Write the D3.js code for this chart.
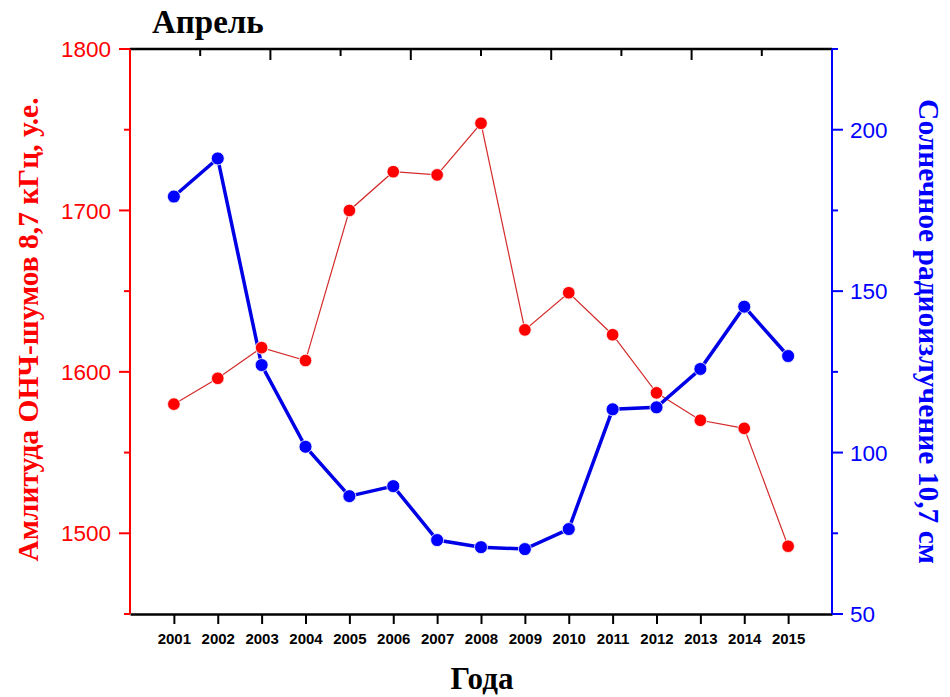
<!DOCTYPE html>
<html>
<head>
<meta charset="utf-8">
<script src="https://cdn.jsdelivr.net/npm/d3@7"></script>
<style>
  body { margin: 0; background: #fff; }
  svg { display: block; }
</style>
</head>
<body>
<svg id="chart" width="950" height="697"></svg>
<script>
// Data
const years = [2001, 2002, 2003, 2004, 2005, 2006, 2007, 2008, 2009, 2010, 2011, 2012, 2013, 2014, 2015];
const vlfNoise = [1580, 1596, 1615, 1607, 1700, 1724, 1722, 1754, 1626, 1649, 1623, 1587, 1570, 1565, 1492];
const solarFlux = [179.3, 191.1, 127.1, 101.8, 86.5, 89.6, 72.9, 70.7, 70.1, 76.3, 113.4, 114, 125.9, 145.2, 129.9];
const leftTicks = [1500, 1600, 1700, 1800];
const rightTicks = [50, 100, 150, 200];

const titleText = "Апрель";
const xTitle = "Года";
const leftTitle = "Амлитуда ОНЧ-шумов 8,7 кГц, у.е.";
const rightTitle = "Солнечное радиоизлучение 10,7 см";

// Plot frame
const plotLeft = 130, plotRight = 832, plotTop = 49, plotBottom = 614;
const red = "#ff0000", blue = "#0000ff";

const svg = d3.select("#chart");

const x = d3.scaleLinear().domain([2000, 2016]).range([plotLeft, plotRight]);
const yL = d3.scaleLinear().domain([1450, 1800]).range([plotBottom, plotTop]);
const yR = d3.scaleLinear().domain([50, 225]).range([plotBottom, plotTop]);
const xTop = d3.scaleLinear().domain([0, 10]).range([plotLeft, plotRight]);

// Top frame line with inward ticks (alternating major / minor)
const gTop = svg.append("g");
gTop.append("line")
    .attr("x1", plotLeft).attr("x2", plotRight).attr("y1", plotTop).attr("y2", plotTop)
    .attr("stroke", "#000").attr("stroke-width", 2.5);
gTop.selectAll("line.t")
    .data(d3.range(1, 10))
    .join("line")
    .attr("class", "t")
    .attr("x1", d => xTop(d)).attr("x2", d => xTop(d))
    .attr("y1", plotTop).attr("y2", d => plotTop + (d % 2 === 0 ? 11 : 7))
    .attr("stroke", "#000").attr("stroke-width", 2);

// Bottom axis
const gX = svg.append("g").attr("transform", `translate(0,${plotBottom})`)
    .call(d3.axisBottom(x).tickValues(years).tickFormat(d3.format("d")).tickSize(10).tickSizeOuter(0));
gX.select(".domain").attr("stroke", "#000").attr("stroke-width", 2.5);
gX.selectAll(".tick line").attr("stroke", "#000").attr("stroke-width", 2);
gX.selectAll(".tick text")
    .attr("fill", "#000")
    .attr("dy", "1.15em")
    .style("font", "bold 15px 'Liberation Sans', Arial, sans-serif");

// Left axis (red)
const gL = svg.append("g").attr("transform", `translate(${plotLeft},0)`);
gL.append("line").attr("x1", 0).attr("x2", 0).attr("y1", plotTop).attr("y2", plotBottom)
    .attr("stroke", red).attr("stroke-width", 2);
gL.selectAll("line.minor")
    .data([1450, 1550, 1650, 1750])
    .join("line").attr("class", "minor")
    .attr("x1", -6).attr("x2", 0).attr("y1", d => yL(d)).attr("y2", d => yL(d))
    .attr("stroke", red).attr("stroke-width", 2);
gL.selectAll("line.major")
    .data(leftTicks)
    .join("line").attr("class", "major")
    .attr("x1", -11).attr("x2", 0).attr("y1", d => yL(d)).attr("y2", d => yL(d))
    .attr("stroke", red).attr("stroke-width", 2);
gL.selectAll("text")
    .data(leftTicks)
    .join("text")
    .attr("x", -19).attr("y", d => yL(d)).attr("dy", "0.36em")
    .attr("text-anchor", "end").attr("fill", red)
    .style("font", "22.5px 'Liberation Sans', Arial, sans-serif")
    .text(d => d);

// Right axis (blue)
const gR = svg.append("g").attr("transform", `translate(${plotRight},0)`);
gR.append("line").attr("x1", 0).attr("x2", 0).attr("y1", plotTop).attr("y2", plotBottom)
    .attr("stroke", blue).attr("stroke-width", 2);
gR.selectAll("line.minor")
    .data([75, 125, 175, 225])
    .join("line").attr("class", "minor")
    .attr("x1", 0).attr("x2", 6).attr("y1", d => yR(d)).attr("y2", d => yR(d))
    .attr("stroke", blue).attr("stroke-width", 2);
gR.selectAll("line.major")
    .data(rightTicks)
    .join("line").attr("class", "major")
    .attr("x1", 0).attr("x2", 11).attr("y1", d => yR(d)).attr("y2", d => yR(d))
    .attr("stroke", blue).attr("stroke-width", 2);
gR.selectAll("text")
    .data(rightTicks)
    .join("text")
    .attr("x", 18).attr("y", d => yR(d)).attr("dy", "0.36em")
    .attr("text-anchor", "start").attr("fill", blue)
    .style("font", "22.5px 'Liberation Sans', Arial, sans-serif")
    .text(d => d);

// Series
const redData = years.map((yr, i) => ({ yr, v: vlfNoise[i] }));
const blueData = years.map((yr, i) => ({ yr, v: solarFlux[i] }));

svg.append("path")
    .datum(redData)
    .attr("fill", "none")
    .attr("stroke", "#d42a2a")
    .attr("stroke-width", 1.2)
    .attr("d", d3.line().x(d => x(d.yr)).y(d => yL(d.v)));

svg.append("path")
    .datum(blueData)
    .attr("fill", "none")
    .attr("stroke", "#0000e6")
    .attr("stroke-width", 3.5)
    .attr("d", d3.line().x(d => x(d.yr)).y(d => yR(d.v)));

svg.append("g").selectAll("circle")
    .data(redData)
    .join("circle")
    .attr("cx", d => x(d.yr)).attr("cy", d => yL(d.v)).attr("r", 6.3)
    .attr("fill", red).attr("stroke", "#fff").attr("stroke-width", 0.8);

svg.append("g").selectAll("circle")
    .data(blueData)
    .join("circle")
    .attr("cx", d => x(d.yr)).attr("cy", d => yR(d.v)).attr("r", 6.5)
    .attr("fill", blue).attr("stroke", "#fff").attr("stroke-width", 0.8);

// Titles
const serif = "'Liberation Serif', 'Times New Roman', serif";
svg.append("text")
    .attr("x", 152).attr("y", 33)
    .style("font", `bold 33px ${serif}`)
    .attr("fill", "#000")
    .text(titleText);

svg.append("text")
    .attr("x", (plotLeft + plotRight) / 2 + 1).attr("y", 689)
    .attr("text-anchor", "middle")
    .style("font", `bold 31px ${serif}`)
    .attr("fill", "#000")
    .text(xTitle);

svg.append("text")
    .attr("transform", `translate(38,${(plotTop + plotBottom) / 2 - 2}) rotate(-90)`)
    .attr("text-anchor", "middle")
    .style("font", `bold 29.5px ${serif}`)
    .attr("fill", red)
    .text(leftTitle);

svg.append("text")
    .attr("transform", `translate(919,${(plotTop + plotBottom) / 2}) rotate(90)`)
    .attr("text-anchor", "middle")
    .style("font", `bold 29.5px ${serif}`)
    .attr("fill", blue)
    .text(rightTitle);
</script>
</body>
</html>
